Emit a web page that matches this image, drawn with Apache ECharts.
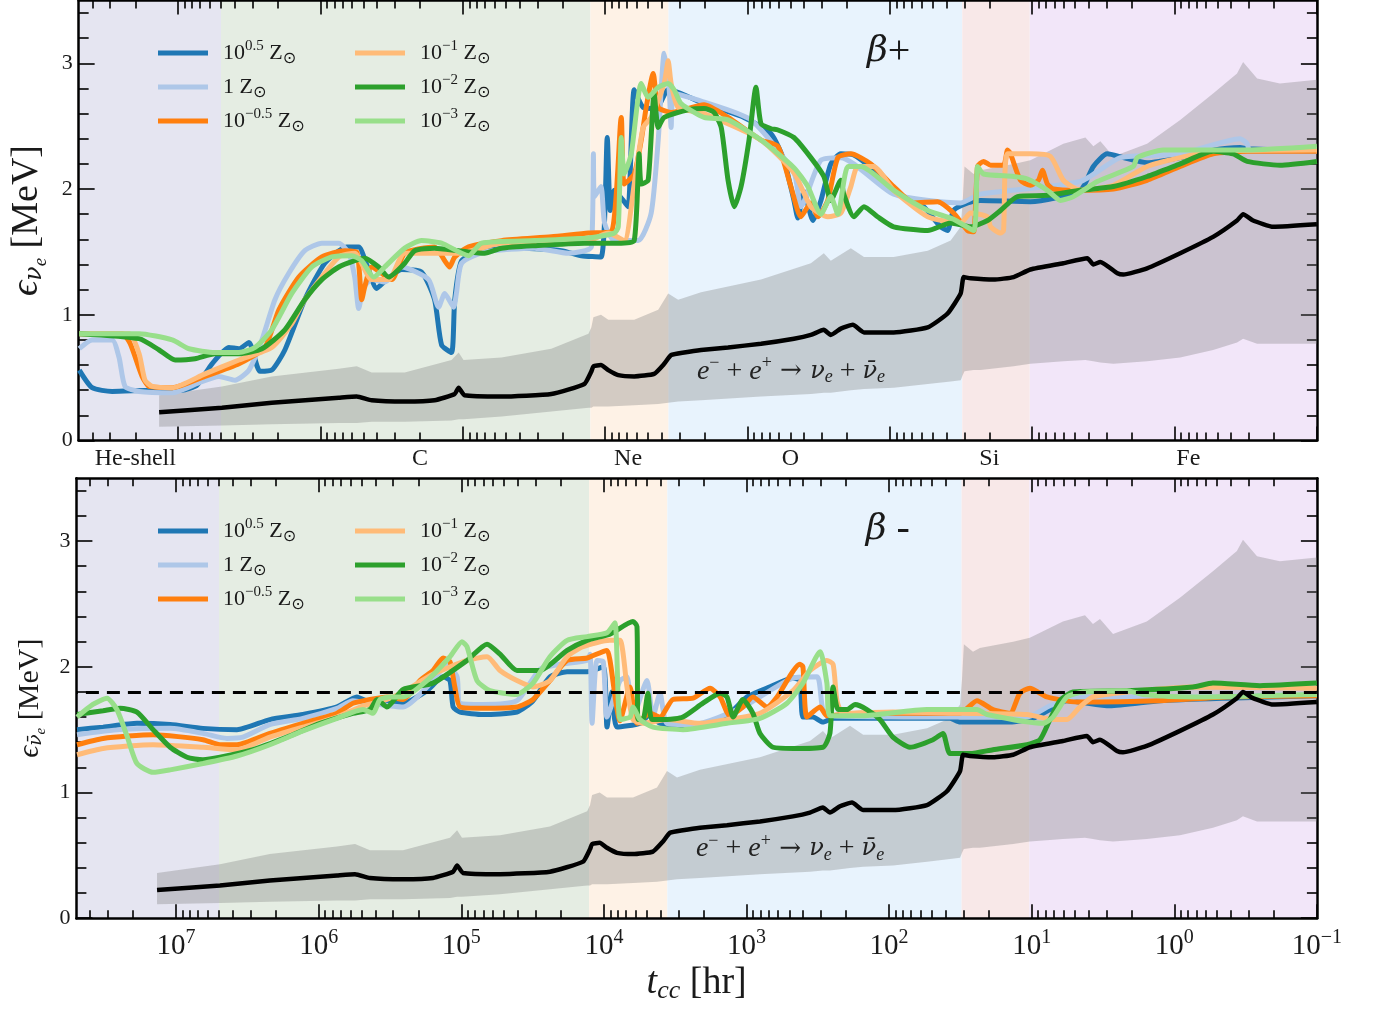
<!DOCTYPE html>
<html><head><meta charset="utf-8">
<script src="https://cdn.jsdelivr.net/npm/echarts@6/dist/echarts.min.js"></script>
<style>html,body{margin:0;padding:0;background:#fff}#c{width:1378px;height:1010px}</style>
</head><body><div id="c"></div>
<script>
// ---------------- DATA ----------------
// time to core collapse t_cc [hr] vs mean energy [MeV]
const seriesNames = ['10^0.5 Zsun', '1 Zsun', '10^-0.5 Zsun', '10^-1 Zsun', '10^-2 Zsun', '10^-3 Zsun'];
const seriesColors = ['#1f77b4', '#aec7e8', '#ff7f0e', '#ffbb78', '#2ca02c', '#98df8a'];

const regionNames = ['He-shell', 'C', 'Ne', 'O', 'Si', 'Fe'];
const regionStart = [5e7, 5.0e6, 1.27e4, 3.59e3, 31.0, 10.4];
const regionEnd = [5.0e6, 1.27e4, 3.59e3, 31.0, 10.4, 0.1];
const regionLabelT = [2.0e7, 2.0e5, 6.9e3, 5.0e2, 20, 0.8];
const regionColors = ['#e5e5f1', '#e5ede3', '#fef2e6', '#e8f3fd', '#f8e8e8', '#f2e6f9'];

const majorTicks = [1e7, 1e6, 1e5, 1e4, 1e3, 1e2, 10, 1, 0.1];
const yMajorTicks = [0, 1, 2, 3];

// beta+ panel
const top_z05 = [[4.95e7,0.56],[4.02e7,0.42],[2.91e7,0.39],[1.52e7,0.40],[9.39e6,0.40],[7.37e6,0.44],[5.78e6,0.61],[4.40e6,0.74],[3.74e6,0.73],[3.18e6,0.78],[2.66e6,0.55],[2.20e6,0.56],[1.78e6,0.72],[1.29e6,1.12],[9.33e5,1.41],[6.54e5,1.54],[5.39e5,1.54],[4.74e5,1.40],[4.03e5,1.21],[3.43e5,1.28],[2.69e5,1.36],[1.95e5,1.34],[1.58e5,1.12],[1.41e5,0.76],[1.20e5,0.70],[1.14e5,1.12],[1.02e5,1.43],[7.39e4,1.51],[3.88e4,1.53],[2.03e4,1.51],[1.47e4,1.47],[1.07e4,1.46],[9.67e3,2.41],[9.21e3,1.83],[8.64e3,1.99],[7.47e3,1.91],[6.89e3,1.86],[6.25e3,2.79],[5.41e3,2.65],[4.38e3,2.64],[3.61e3,2.79],[2.93e3,2.76],[2.02e3,2.68],[1.06e3,2.57],[684,2.44],[555,2.23],[472,1.91],[443,1.77],[402,1.98],[347,1.75],[305,1.91],[260,2.20],[221,2.28],[179,2.27],[130,2.15],[94,1.99],[68,1.89],[57.9,1.86],[44,1.70],[39.3,1.67],[35.7,1.83],[28.4,1.89],[23.1,1.91],[10.3,1.90],[4.59,1.99],[3.72,2.18],[2.97,2.28],[2.29,2.25],[1.56,2.21],[0.913,2.25],[0.536,2.31],[0.346,2.33],[0.309,2.32],[0.1,2.30]];
const top_z1 = [[4.95e7,0.73],[4.02e7,0.80],[2.91e7,0.80],[2.60e7,0.66],[2.36e7,0.43],[1.88e7,0.39],[1.10e7,0.38],[7.13e6,0.46],[5.17e6,0.51],[3.99e6,0.48],[3.18e6,0.56],[2.58e6,0.80],[2.09e6,1.12],[1.67e6,1.33],[1.29e6,1.51],[9.79e5,1.57],[7.44e5,1.57],[6.33e5,1.49],[5.75e5,1.30],[5.39e5,1.05],[4.97e5,1.22],[4.37e5,1.28],[3.54e5,1.26],[2.69e5,1.38],[1.74e5,1.28],[1.48e5,1.06],[1.34e5,1.17],[1.16e5,1.06],[1.11e5,1.17],[1.02e5,1.41],[7.04e4,1.50],[3.14e4,1.53],[1.81e4,1.49],[1.25e4,1.54],[1.21e4,2.28],[1.19e4,1.94],[1.07e4,2.02],[1.01e4,1.73],[8.64e3,1.59],[5.86e3,1.59],[4.75e3,1.81],[4.24e3,2.39],[3.85e3,3.08],[3.55e3,2.79],[3.44e3,2.49],[3.28e3,2.76],[2.12e3,2.70],[945,2.55],[472,2.13],[422,1.86],[305,2.23],[221,2.25],[94,1.96],[31.8,1.89],[23.1,1.96],[4.59,2.06],[2.40,2.25],[0.913,2.28],[0.346,2.40],[0.309,2.36],[0.295,2.30],[0.1,2.30]];
const top_zm05 = [[4.95e7,0.85],[2.47e7,0.85],[2.17e7,0.77],[1.79e7,0.51],[1.60e7,0.43],[1.10e7,0.42],[6.48e6,0.51],[3.74e6,0.61],[2.46e6,0.74],[1.96e6,1.04],[1.42e6,1.30],[9.79e5,1.46],[6.75e5,1.51],[5.56e5,1.50],[5.13e5,1.12],[4.89e5,1.22],[4.37e5,1.38],[3.16e5,1.28],[2.56e5,1.49],[1.58e5,1.54],[1.34e5,1.43],[1.24e5,1.38],[1.14e5,1.46],[9.12e4,1.54],[5.35e4,1.59],[2.39e4,1.62],[1.31e4,1.65],[9.06e3,1.66],[7.71e3,2.57],[7.35e3,2.04],[6.25e3,2.12],[5.58e3,2.39],[5.15e3,2.65],[4.60e3,2.92],[4.24e3,2.65],[3.44e3,2.61],[2.02e3,2.67],[1.37e3,2.57],[804,2.39],[611,2.34],[496,2.02],[422,1.78],[359,1.89],[320,1.78],[273,1.91],[232,2.25],[188,2.28],[136,2.20],[94,2.02],[68,1.89],[46.2,1.90],[35.7,1.81],[28.4,1.67],[25.8,1.66],[24.2,2.18],[22.0,2.22],[19.6,2.19],[15.9,2.19],[14.9,2.31],[14.2,2.28],[12.1,2.07],[10.3,2.03],[9.04,2.07],[8.48,2.15],[7.82,2.04],[7.09,2.00],[4.82,1.99],[2.69,2.00],[1.56,2.07],[0.913,2.18],[0.536,2.28],[0.309,2.30],[0.1,2.30]];
const top_zm1 = [[4.95e7,0.85],[2.21e7,0.85],[1.88e7,0.69],[1.71e7,0.48],[1.52e7,0.43],[1.10e7,0.42],[6.48e6,0.53],[3.74e6,0.64],[2.20e6,0.74],[1.59e6,0.93],[1.29e6,1.12],[7.44e5,1.46],[5.75e5,1.49],[4.37e5,1.28],[3.32e5,1.28],[2.56e5,1.49],[1.34e5,1.49],[1.07e5,1.49],[5.35e4,1.57],[1.31e4,1.59],[9.51e3,1.65],[7.35e3,1.59],[6.25e3,2.04],[5.41e3,2.49],[4.75e3,2.57],[3.85e3,2.84],[3.61e3,3.02],[3.44e3,2.84],[3.07e3,2.65],[2.02e3,2.60],[804,2.39],[472,2.13],[359,1.86],[273,1.78],[221,1.81],[188,2.02],[168,2.18],[130,2.18],[94,1.99],[54.2,1.78],[31.8,1.73],[27.1,1.81],[20.6,1.78],[19.6,1.70],[16.7,1.65],[15.9,1.67],[14.9,2.28],[10.3,2.28],[7.45,2.26],[6.04,2.07],[4.59,1.99],[2.69,2.03],[1.56,2.18],[0.913,2.25],[0.536,2.30],[0.1,2.31]];
const top_zm2 = [[4.95e7,0.85],[1.88e7,0.81],[1.36e7,0.72],[1.05e7,0.64],[7.61e6,0.65],[5.51e6,0.69],[3.74e6,0.69],[2.58e6,0.73],[1.78e6,0.88],[1.29e6,1.12],[9.79e5,1.28],[7.44e5,1.38],[5.75e5,1.43],[4.89e5,1.45],[3.90e5,1.38],[3.32e5,1.30],[2.56e5,1.41],[2.18e5,1.51],[1.58e5,1.53],[9.12e4,1.50],[7.04e4,1.49],[5.35e4,1.53],[3.14e4,1.55],[1.40e4,1.57],[7.71e3,1.57],[6.25e3,1.59],[5.77e3,2.28],[5.58e3,2.04],[4.99e3,2.07],[4.53e3,2.76],[4.24e3,2.49],[3.85e3,2.57],[2.61e3,2.63],[2.02e3,2.64],[1.72e3,2.61],[1.53e3,2.49],[1.37e3,2.07],[1.24e3,1.86],[1.11e3,2.02],[976,2.39],[872,2.81],[804,2.52],[684,2.48],[611,2.47],[472,2.41],[359,2.25],[291,2.10],[260,1.91],[221,2.07],[211,1.96],[179,1.78],[152,1.86],[122,1.78],[94,1.70],[54.2,1.67],[37.4,1.73],[27.1,1.70],[20.6,1.75],[16.7,1.83],[12.7,1.94],[7.82,1.95],[4.59,1.99],[2.69,2.02],[1.56,2.10],[0.913,2.20],[0.536,2.30],[0.388,2.28],[0.309,2.22],[0.182,2.19],[0.1,2.22]];
const top_zm3 = [[4.95e7,0.85],[1.88e7,0.85],[1.10e7,0.80],[8.38e6,0.73],[5.51e6,0.70],[3.74e6,0.70],[2.89e6,0.74],[2.20e6,0.88],[1.59e6,1.17],[1.15e6,1.38],[8.33e5,1.46],[6.03e5,1.47],[5.13e5,1.43],[4.23e5,1.30],[3.54e5,1.38],[2.56e5,1.53],[1.95e5,1.59],[1.41e5,1.57],[9.12e4,1.47],[7.39e4,1.57],[3.14e4,1.59],[1.31e4,1.61],[8.64e3,1.65],[8.09e3,1.70],[7.71e3,2.41],[7.35e3,2.12],[6.56e3,2.28],[5.58e3,2.84],[4.99e3,2.73],[4.24e3,2.81],[3.61e3,2.84],[3.28e3,2.79],[2.93e3,2.68],[2.02e3,2.57],[1.37e3,2.55],[804,2.39],[472,2.17],[377,2.02],[305,1.80],[260,1.94],[232,1.80],[197,2.18],[160,2.18],[94,1.99],[54.2,1.83],[35.7,1.76],[25.8,1.67],[24.2,2.18],[22.0,2.12],[13.5,2.10],[10.8,2.08],[7.82,1.99],[6.34,1.91],[5.14,1.94],[3.49,2.06],[1.95,2.18],[1.83,2.25],[1.20,2.31],[0.309,2.31],[0.1,2.34]];

// beta- panel
const bot_z05 = [[4.95e7,1.50],[3.25e7,1.52],[1.88e7,1.55],[1.10e7,1.54],[6.48e6,1.51],[3.74e6,1.50],[2.20e6,1.58],[1.29e6,1.62],[7.44e5,1.68],[5.39e5,1.76],[4.89e5,1.74],[3.90e5,1.71],[2.56e5,1.71],[1.74e5,1.81],[1.34e5,1.92],[1.20e5,1.89],[1.14e5,1.68],[1.02e5,1.64],[7.04e4,1.62],[4.07e4,1.64],[3.14e4,1.73],[2.39e4,1.92],[1.81e4,1.96],[1.31e4,1.96],[1.01e4,2.00],[9.51e3,1.52],[8.78e3,1.80],[8.09e3,1.52],[5.58e3,1.55],[4.75e3,1.62],[4.04e3,1.55],[2.37e3,1.52],[1.37e3,1.61],[992,1.76],[684,1.84],[472,1.91],[422,1.89],[402,1.60],[342,1.60],[291,1.56],[247,1.59],[94,1.59],[37.4,1.59],[31.8,1.56],[14.2,1.56],[9.80,1.59],[7.45,1.66],[5.66,1.73],[2.83,1.69],[1.26,1.73],[0.427,1.75],[0.1,1.77]];
const bot_z1 = [[4.95e7,1.46],[2.47e7,1.50],[1.10e7,1.51],[6.48e6,1.47],[4.40e6,1.43],[3.40e6,1.44],[2.20e6,1.54],[1.29e6,1.59],[7.44e5,1.67],[5.75e5,1.73],[4.37e5,1.71],[2.56e5,1.68],[1.58e5,1.89],[1.26e5,2.02],[1.07e5,1.92],[1.02e5,1.71],[7.04e4,1.70],[4.07e4,1.73],[2.81e4,1.98],[2.03e4,2.02],[1.31e4,2.05],[1.25e4,2.10],[1.21e4,1.55],[1.12e4,2.05],[1.01e4,2.04],[9.51e3,1.60],[7.71e3,1.89],[6.89e3,1.92],[6.25e3,1.60],[4.99e3,1.89],[4.53e3,1.60],[4.04e3,1.79],[3.61e3,1.55],[2.37e3,1.54],[1.06e3,1.68],[472,1.91],[320,1.92],[291,1.66],[247,1.61],[31.8,1.60],[10.8,1.60],[7.45,1.69],[4.82,1.76],[1.26,1.76],[0.1,1.78]];
const bot_zm05 = [[4.95e7,1.38],[3.25e7,1.43],[1.45e7,1.46],[6.48e6,1.42],[4.92e6,1.38],[3.74e6,1.38],[2.20e6,1.47],[1.29e6,1.55],[7.44e5,1.63],[5.75e5,1.71],[4.37e5,1.74],[3.32e5,1.76],[2.56e5,1.74],[1.95e5,1.89],[1.58e5,1.97],[1.34e5,2.07],[1.20e5,2.04],[1.11e5,1.84],[1.02e5,1.68],[7.04e4,1.67],[4.07e4,1.68],[3.14e4,1.74],[2.39e4,1.89],[1.81e4,2.05],[1.31e4,2.07],[9.51e3,2.13],[9.06e3,2.05],[7.71e3,1.57],[6.56e3,1.84],[5.86e3,1.55],[4.75e3,1.63],[4.04e3,1.60],[3.28e3,1.74],[2.37e3,1.75],[1.80e3,1.83],[1.53e3,1.76],[1.31e3,1.61],[1.06e3,1.68],[901,1.76],[718,1.68],[611,1.76],[422,2.02],[402,2.00],[377,1.60],[305,1.68],[273,1.61],[160,1.63],[31.8,1.63],[24.2,1.73],[18.7,1.66],[14.2,1.63],[12.1,1.79],[10.3,1.83],[7.82,1.76],[4.82,1.72],[1.26,1.73],[0.427,1.76],[0.1,1.77]];
const bot_zm1 = [[4.95e7,1.30],[3.25e7,1.35],[1.45e7,1.38],[6.48e6,1.36],[3.74e6,1.34],[2.20e6,1.44],[1.29e6,1.52],[7.44e5,1.60],[5.13e5,1.68],[3.32e5,1.74],[2.56e5,1.80],[1.58e5,1.94],[9.12e4,2.05],[6.60e4,2.08],[5.35e4,1.97],[4.07e4,1.89],[3.14e4,1.84],[2.39e4,1.89],[1.81e4,2.08],[1.40e4,2.16],[9.06e3,2.21],[7.71e3,2.21],[6.89e3,1.84],[6.25e3,1.58],[5.32e3,1.55],[3.61e3,1.58],[2.12e3,1.55],[1.37e3,1.58],[804,1.63],[472,1.81],[359,1.97],[273,2.05],[247,2.02],[232,1.73],[211,1.63],[94,1.64],[31.8,1.63],[10.8,1.62],[7.09,1.58],[5.66,1.58],[4.59,1.68],[3.72,1.76],[2.15,1.80],[0.740,1.84],[0.1,1.83]];
const bot_zm2 = [[4.95e7,1.62],[3.25e7,1.65],[2.47e7,1.67],[1.88e7,1.64],[1.45e7,1.50],[1.10e7,1.36],[8.38e6,1.28],[6.48e6,1.26],[4.92e6,1.28],[2.89e6,1.34],[1.67e6,1.44],[9.79e5,1.55],[5.75e5,1.63],[4.37e5,1.66],[3.90e5,1.74],[3.32e5,1.68],[2.56e5,1.82],[1.58e5,1.87],[9.12e4,2.05],[6.60e4,2.18],[5.35e4,2.10],[4.07e4,1.97],[2.81e4,1.97],[1.81e4,2.13],[1.31e4,2.21],[9.06e3,2.26],[6.25e3,2.36],[5.86e3,2.32],[5.77e3,1.58],[5.32e3,1.58],[4.91e3,1.79],[4.60e3,1.58],[3.61e3,1.58],[2.79e3,1.60],[2.02e3,1.71],[1.53e3,1.79],[1.37e3,1.76],[1.24e3,1.60],[1.06e3,1.74],[901,1.63],[804,1.47],[652,1.36],[472,1.35],[291,1.36],[260,1.47],[247,1.84],[228,1.66],[197,1.66],[173,1.70],[143,1.66],[116,1.58],[94,1.44],[71.4,1.36],[49.2,1.42],[41.9,1.47],[37.4,1.31],[27.1,1.31],[18.7,1.34],[10.8,1.38],[8.75,1.42],[7.45,1.58],[6.34,1.73],[5.14,1.80],[2.15,1.81],[0.740,1.84],[0.536,1.87],[0.251,1.85],[0.1,1.87]];
const bot_zm3 = [[4.95e7,1.60],[3.83e7,1.70],[3.05e7,1.75],[2.60e7,1.66],[2.21e7,1.45],[1.88e7,1.23],[1.45e7,1.16],[1.10e7,1.18],[6.48e6,1.23],[3.74e6,1.29],[2.20e6,1.38],[1.29e6,1.49],[7.44e5,1.59],[4.89e5,1.66],[4.16e5,1.63],[3.72e5,1.74],[3.16e5,1.76],[2.56e5,1.76],[1.74e5,1.89],[1.20e5,2.08],[9.89e4,2.20],[9.12e4,2.16],[7.76e4,1.89],[6.29e4,1.81],[4.07e4,1.78],[3.14e4,1.87],[2.39e4,2.08],[1.81e4,2.21],[1.31e4,2.24],[9.51e3,2.27],[8.36e3,2.35],[7.71e3,1.58],[6.56e3,1.60],[6.25e3,1.68],[5.58e3,1.58],[4.53e3,1.52],[2.79e3,1.50],[1.37e3,1.55],[804,1.59],[520,1.71],[402,1.87],[305,2.12],[273,1.87],[260,1.61],[160,1.61],[54.2,1.66],[31.8,1.66],[24.2,1.66],[20.6,1.62],[8.34,1.55],[7.09,1.60],[5.66,1.76],[4.37,1.80],[2.15,1.81],[1.66,1.78],[0.740,1.76],[0.1,1.78]];

// e- + e+ pair neutrinos: mean and spread (same in both panels)
const pairMean = [[1.36e7,0.225],[4.92e6,0.26],[2.20e6,0.30],[7.44e5,0.34],[5.56e5,0.35],[4.37e5,0.32],[2.56e5,0.31],[1.58e5,0.32],[1.14e5,0.37],[1.07e5,0.42],[9.73e4,0.36],[5.35e4,0.35],[2.39e4,0.37],[1.40e4,0.45],[1.25e4,0.55],[1.21e4,0.59],[1.07e4,0.60],[9.51e3,0.56],[8.09e3,0.52],[6.25e3,0.51],[4.53e3,0.53],[3.85e3,0.61],[3.44e3,0.68],[2.79e3,0.70],[2.12e3,0.72],[1.37e3,0.74],[804,0.77],[472,0.81],[359,0.84],[291,0.88],[260,0.84],[221,0.89],[182,0.92],[152,0.86],[94,0.86],[54.2,0.90],[39.3,1.01],[31.8,1.17],[30.3,1.30],[27.1,1.29],[18.7,1.28],[13.5,1.30],[10.3,1.36],[6.04,1.41],[4.10,1.45],[3.72,1.40],[3.32,1.42],[2.52,1.33],[2.29,1.32],[1.56,1.37],[0.913,1.49],[0.536,1.62],[0.364,1.75],[0.330,1.80],[0.281,1.75],[0.203,1.70],[0.1,1.72]];
const bandT = [1.36e7,4.92e6,2.20e6,7.44e5,5.56e5,4.37e5,2.56e5,1.20e5,1.07e5,9.89e4,5.35e4,2.39e4,1.31e4,1.25e4,1.21e4,1.07e4,9.51e3,6.25e3,4.24e3,3.61e3,3.07e3,2.12e3,804,359,291,260,188,152,94,54.2,37.4,31.8,30.8,29.9,25.8,23.1,13.5,10.3,6.04,4.23,3.72,3.32,2.69,1.56,0.913,0.536,0.364,0.330,0.263,0.182,0.1];
const bandLow = [0.11,0.12,0.13,0.14,0.14,0.15,0.15,0.16,0.17,0.17,0.19,0.23,0.26,0.26,0.27,0.27,0.27,0.28,0.29,0.30,0.31,0.32,0.35,0.37,0.38,0.38,0.40,0.41,0.42,0.45,0.47,0.48,0.52,0.55,0.56,0.56,0.59,0.61,0.63,0.64,0.63,0.62,0.61,0.63,0.66,0.72,0.78,0.81,0.77,0.77,0.77];
const bandHigh = [0.36,0.43,0.51,0.57,0.59,0.54,0.54,0.64,0.70,0.64,0.66,0.73,0.85,0.90,0.98,1.00,0.96,0.96,1.04,1.17,1.12,1.18,1.28,1.41,1.49,1.43,1.53,1.46,1.46,1.51,1.59,1.70,1.90,2.18,2.12,2.15,2.20,2.23,2.36,2.41,2.34,2.38,2.26,2.36,2.55,2.76,2.92,3.01,2.88,2.84,2.87];

const topSeries = [top_z05, top_z1, top_zm05, top_zm1, top_zm2, top_zm3];
const botSeries = [bot_z05, bot_z1, bot_zm05, bot_zm1, bot_zm2, bot_zm3];
const dashedLevel = 1.8;

// ---------------- CHART ----------------
const SERIF = '"Liberation Serif", "DejaVu Serif", serif';
const GREEK = '"DejaVu Serif", serif';
const INK = '#1a1a1a';
const chart = echarts.init(document.getElementById('c'), null, {renderer: 'canvas'});

const minorTicks = [];
for (let n = -1; n <= 7; n++) for (let k = 2; k <= 9; k++) { const v = +(k * Math.pow(10, n)).toPrecision(3); if (v < 5e7) minorTicks.push(v); }
const yMinor = [];
for (let i = 1; i <= 17; i++) { if (i % 5) yMinor.push(+(i * 0.2).toFixed(1)); }

const legendLabel = {
  '10^0.5 Zsun': '{b|10}{p|0.5}{b| Z}{s|⊙}',
  '1 Zsun': '{b|1 Z}{s|⊙}',
  '10^-0.5 Zsun': '{b|10}{p|−0.5}{b| Z}{s|⊙}',
  '10^-1 Zsun': '{b|10}{p|−1}{b| Z}{s|⊙}',
  '10^-2 Zsun': '{b|10}{p|−2}{b| Z}{s|⊙}',
  '10^-3 Zsun': '{b|10}{p|−3}{b| Z}{s|⊙}'
};
const legendRich = {
  b: {fontFamily: SERIF, fontSize: 22, color: INK},
  p: {fontFamily: SERIF, fontSize: 15, color: INK, padding: [0, 0, 14, 0]},
  s: {fontFamily: 'DejaVu Sans', fontSize: 16, color: INK, padding: [12, 0, 0, 0]}
};

const X0 = 76.4, XW = 1240.5;
const grids = [
  {left: X0, width: XW, top: 0.5, height: 440},
  {left: X0, width: XW, top: 478.2, height: 440}
];

function xAx(grid, pos, minor, labels) {
  return {
    type: 'log', logBase: 10, gridIndex: grid, position: pos, min: 0.1, max: 5e7, inverse: true,
    axisLine: {show: !minor, onZero: false, lineStyle: {color: '#000', width: 2.5}},
    axisTick: {show: true, inside: true, length: minor ? 8 : 14, customValues: minor ? minorTicks : majorTicks, lineStyle: {color: '#000', width: 1.6}},
    axisLabel: labels ? {
      show: true, customValues: majorTicks, margin: 10, color: INK,
      formatter: v => { const e = Math.round(Math.log10(v)); return '{b|10}{p|' + (e < 0 ? '−' + (-e) : e) + '}'; },
      rich: {b: {fontFamily: SERIF, fontSize: 29, color: INK}, p: {fontFamily: SERIF, fontSize: 20, color: INK, padding: [0, 0, 16, 0]}}
    } : {show: false},
    splitLine: {show: false}, minorTick: {show: false},
    name: labels ? '{i|t}{s|cc} [hr]' : '', nameLocation: 'middle', nameGap: 44,
    nameTextStyle: {fontFamily: SERIF, fontSize: 38, color: INK, rich: {
      i: {fontFamily: SERIF, fontStyle: 'italic', fontSize: 38, color: INK},
      s: {fontFamily: SERIF, fontStyle: 'italic', fontSize: 26, color: INK, padding: [16, 0, 0, 0]}
    }}
  };
}
function yAx(grid, pos, minor, title, tsize) {
  return {
    type: 'value', gridIndex: grid, position: pos, min: 0, max: 3.5,
    axisLine: {show: !minor, onZero: false, lineStyle: {color: '#000', width: 2.5}},
    axisTick: {show: true, inside: true, length: minor ? 10 : 16, customValues: minor ? yMinor : yMajorTicks, lineStyle: {color: '#000', width: 1.6}},
    axisLabel: (pos === 'left' && !minor) ? {show: true, customValues: yMajorTicks, margin: 6, fontFamily: SERIF, fontSize: 22, color: INK} : {show: false},
    splitLine: {show: false},
    name: title || '', nameLocation: 'middle', nameRotate: 90, nameGap: grid === 0 ? 24 : 26,
    nameTextStyle: {fontFamily: SERIF, fontSize: tsize, color: INK, rich: {
      e: {fontFamily: SERIF, fontStyle: 'italic', fontSize: tsize, color: INK},
      s: {fontFamily: GREEK, fontStyle: 'italic', fontSize: tsize * 0.62, color: INK, padding: [tsize * 0.4, 0, 0, 0]},
      ss: {fontFamily: SERIF, fontStyle: 'italic', fontSize: tsize * 0.5, color: INK, padding: [tsize * 0.75, 0, 0, 0]}
    }}
  };
}

const xAxes = [
  xAx(0, 'bottom', false, false), xAx(0, 'bottom', true, false), xAx(0, 'top', false, false), xAx(0, 'top', true, false),
  xAx(1, 'bottom', false, true), xAx(1, 'bottom', true, false), xAx(1, 'top', false, false), xAx(1, 'top', true, false)
];
const yAxes = [
  yAx(0, 'left', false, '{e|ϵ}{s|ν}{ss|e} [MeV]', 38), yAx(0, 'left', true), yAx(0, 'right', false), yAx(0, 'right', true),
  yAx(1, 'left', false, '{e|ϵ}{s|ν̄}{ss|e} [MeV]', 30), yAx(1, 'left', true), yAx(1, 'right', false), yAx(1, 'right', true)
];

const series = [];
[0, 1].forEach(g => {
  const xi = g * 4, yi = g * 4;
  // background burning-stage bands
  series.push({
    type: 'custom', xAxisIndex: xi, yAxisIndex: yi, z: 0, silent: true,
    data: regionStart.map((s, i) => [s, regionEnd[i], 0, 3.5]),
    encode: {x: [0, 1], y: [2, 3]},
    renderItem: (params, api) => {
      const a = api.coord([api.value(0), api.value(3)]);
      const b = api.coord([api.value(1), api.value(2)]);
      return {type: 'rect', shape: {x: Math.min(a[0], b[0]), y: Math.min(a[1], b[1]), width: Math.abs(b[0] - a[0]), height: Math.abs(b[1] - a[1])},
        style: {fill: regionColors[params.dataIndex]}};
    }
  });
  // pair-neutrino spread
  series.push({
    type: 'custom', xAxisIndex: xi, yAxisIndex: yi, z: 1, silent: true,
    data: bandT.map((t, i) => [t, bandLow[i], bandHigh[i]]),
    encode: {x: 0, y: [1, 2]},
    renderItem: (params, api) => {
      if (params.dataIndex !== 0) return null;
      const pts = [];
      for (let i = 0; i < bandT.length; i++) pts.push(api.coord([bandT[i], bandHigh[i]]));
      for (let i = bandT.length - 1; i >= 0; i--) pts.push(api.coord([bandT[i], bandLow[i]]));
      return {type: 'polygon', shape: {points: pts}, style: {fill: 'rgba(120,120,120,0.32)'}};
    }
  });
  // metallicity curves
  const set = g === 0 ? topSeries : botSeries;
  set.forEach((d, i) => {
    series.push({
      type: 'line', name: seriesNames[i], xAxisIndex: xi, yAxisIndex: yi, data: d, z: 3 + i,
      showSymbol: false, symbol: 'none', smooth: 0.2, clip: true, silent: true,
      color: seriesColors[i], lineStyle: {width: 5, color: seriesColors[i]}
    });
  });
  // pair-neutrino mean
  const mean = {
    type: 'line', name: 'pair' + g, xAxisIndex: xi, yAxisIndex: yi, data: pairMean, z: 10,
    showSymbol: false, symbol: 'none', smooth: 0.15, silent: true, lineStyle: {width: 4.5, color: '#000'}, color: '#000'
  };
  if (g === 1) {
    mean.markLine = {silent: true, symbol: 'none', z: 20, label: {show: false},
      lineStyle: {color: '#000', width: 3, type: [13, 8]}, data: [{yAxis: dashedLevel}]};
  }
  series.push(mean);
});

function legend(names, left, top) {
  return {
    data: names, orient: 'vertical', left: left, top: top, itemWidth: 50, itemHeight: 5, itemGap: 0, icon: 'rect', padding: 0,
    selectedMode: false, formatter: n => legendLabel[n],
    textStyle: {fontFamily: SERIF, fontSize: 22, color: INK, lineHeight: 34, padding: [0, 0, 0, 10], rich: legendRich}
  };
}

chart.setOption({
  animation: false,
  backgroundColor: '#fff',
  grid: grids,
  xAxis: xAxes,
  yAxis: yAxes,
  legend: [
    legend(seriesNames.slice(0, 3), 158, 36), legend(seriesNames.slice(3), 355, 36),
    legend(seriesNames.slice(0, 3), 158, 514), legend(seriesNames.slice(3), 355, 514)
  ],
  series: series
});

// annotations placed in data coordinates
const graphics = [];
regionNames.forEach((n, i) => {
  const p = chart.convertToPixel({xAxisIndex: 0, yAxisIndex: 0}, [regionLabelT[i], 0]);
  graphics.push({type: 'text', x: p[0], y: p[1] + 18, style: {text: n, fontFamily: SERIF, fontSize: 24, fill: INK, align: 'center', verticalAlign: 'middle'}});
});
const eqRich = {
  i: {fontFamily: SERIF, fontStyle: 'italic', fontSize: 28, fill: '#222'},
  g: {fontFamily: GREEK, fontStyle: 'italic', fontSize: 24, fill: '#222'},
  u: {fontFamily: SERIF, fontSize: 28, fill: '#222'},
  a: {fontFamily: GREEK, fontSize: 26, fill: '#222'},
  p: {fontFamily: SERIF, fontSize: 18, fill: '#222', padding: [0, 0, 16, 0]},
  s: {fontFamily: SERIF, fontStyle: 'italic', fontSize: 18, fill: '#222', padding: [12, 0, 0, 0]}
};
[0, 1].forEach(g => {
  const q = chart.convertToPixel({xAxisIndex: g * 4, yAxisIndex: g * 4}, [102, 3.09]);
  graphics.push({type: 'text', x: q[0], y: q[1], z: 50, style: {text: g === 0 ? '{i|β}{u|+}' : '{i|β}{u| -}', rich: {
    i: {fontFamily: GREEK, fontStyle: 'italic', fontSize: 36, fill: INK}, u: {fontFamily: SERIF, fontSize: 40, fill: INK}},
    align: 'center', verticalAlign: 'middle'}});
  const r = chart.convertToPixel({xAxisIndex: g * 4, yAxisIndex: g * 4}, [495, 0.55]);
  graphics.push({type: 'text', x: r[0], y: r[1], z: 50, style: {text: '{i|e}{p|−}{u| + }{i|e}{p|+}{a| → }{g|ν}{s|e}{u| + }{g|ν̄}{s|e}', rich: eqRich, align: 'center', verticalAlign: 'middle'}});
});
chart.setOption({graphic: graphics});
</script></body></html>
